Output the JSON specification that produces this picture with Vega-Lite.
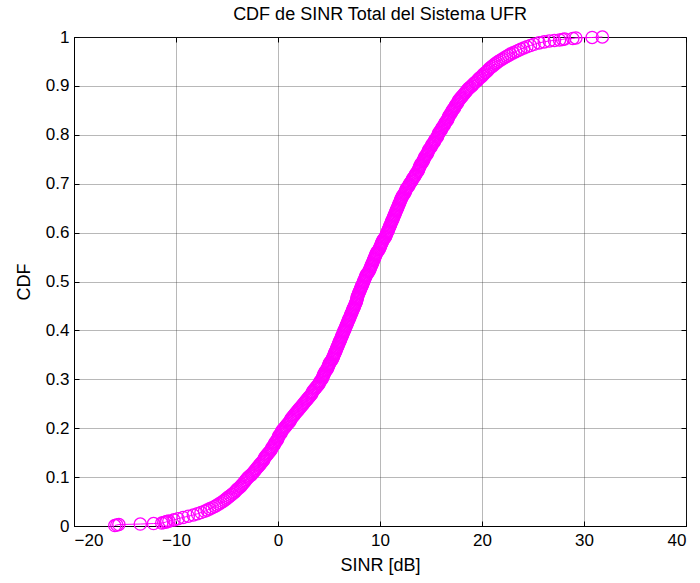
{
  "$schema": "https://vega.github.io/schema/vega-lite/v6.json",
  "autosize": {"type": "none"},
  "padding": {"left": 74, "top": 37, "right": 14, "bottom": 57},
  "width": 612,
  "height": 489,
  "background": "white",
  "title": {"text": "CDF de SINR Total del Sistema UFR", "font": "Liberation Sans", "fontSize": 18, "fontWeight": "normal", "color": "black", "anchor": "middle", "offset": 4},
  "config": {
    "view": {"stroke": "black", "strokeWidth": 1},
    "axis": {
      "domainColor": "black", "domainWidth": 1,
      "tickColor": "black", "tickSize": -5, "tickWidth": 1,
      "labelFont": "Liberation Sans", "labelFontSize": 17, "labelColor": "black",
      "titleFont": "Liberation Sans", "titleFontSize": 18, "titleFontWeight": "normal", "titleColor": "black",
      "gridColor": "#333", "gridDash": [1, 1], "gridOpacity": 0.7, "gridWidth": 1
    }
  },
  "data": {"values": [
    {"x": -16.0, "c": 0.001}, {"x": -15.8, "c": 0.002}, {"x": -15.6, "c": 0.003}, {"x": -13.5, "c": 0.004},
    {"x": -12.2, "c": 0.005}, {"x": -11.4, "c": 0.006}, {"x": -11.2, "c": 0.007}, {"x": -11.0, "c": 0.008},
    {"x": -10.9, "c": 0.009}, {"x": -10.7, "c": 0.010}, {"x": -10.2, "c": 0.0125}, {"x": -9.8, "c": 0.015},
    {"x": -9.3, "c": 0.0175}, {"x": -8.8, "c": 0.020}, {"x": -8.3, "c": 0.0225}, {"x": -7.9, "c": 0.025},
    {"x": -7.55, "c": 0.0275}, {"x": -7.2, "c": 0.030}, {"x": -6.95, "c": 0.0325}, {"x": -6.7, "c": 0.035},
    {"x": -6.45, "c": 0.0375}, {"x": -6.2, "c": 0.040}, {"x": -6.0, "c": 0.0425}, {"x": -5.8, "c": 0.045},
    {"x": -5.6, "c": 0.0475}, {"x": -5.4, "c": 0.050}, {"x": -5.25, "c": 0.0525}, {"x": -5.1, "c": 0.055},
    {"x": -4.95, "c": 0.0575}, {"x": -4.8, "c": 0.060}, {"x": -4.65, "c": 0.0625}, {"x": -4.5, "c": 0.065},
    {"x": -4.35, "c": 0.0675}, {"x": -4.2, "c": 0.070}, {"x": -4.1, "c": 0.0725}, {"x": -4.0, "c": 0.075},
    {"x": -3.85, "c": 0.0775}, {"x": -3.7, "c": 0.080}, {"x": -3.6, "c": 0.0825}, {"x": -3.5, "c": 0.085},
    {"x": -3.4, "c": 0.0875}, {"x": -3.3, "c": 0.090}, {"x": -3.2, "c": 0.0925}, {"x": -3.1, "c": 0.095},
    {"x": -3.0, "c": 0.0975}, {"x": -2.9, "c": 0.100}, {"x": -2.75, "c": 0.1025}, {"x": -2.6, "c": 0.105},
    {"x": -2.5, "c": 0.1075}, {"x": -2.4, "c": 0.110}, {"x": -2.3, "c": 0.1125}, {"x": -2.2, "c": 0.115},
    {"x": -2.1, "c": 0.1175}, {"x": -2.0, "c": 0.120}, {"x": -1.9, "c": 0.1225}, {"x": -1.8, "c": 0.125},
    {"x": -1.7, "c": 0.1275}, {"x": -1.6, "c": 0.130}, {"x": -1.5, "c": 0.1325}, {"x": -1.4, "c": 0.135},
    {"x": -1.35, "c": 0.1375}, {"x": -1.3, "c": 0.140}, {"x": -1.2, "c": 0.1425}, {"x": -1.1, "c": 0.145},
    {"x": -1.0, "c": 0.1475}, {"x": -0.9, "c": 0.150}, {"x": -0.8, "c": 0.1525}, {"x": -0.7, "c": 0.155},
    {"x": -0.65, "c": 0.1575}, {"x": -0.6, "c": 0.160}, {"x": -0.5, "c": 0.1625}, {"x": -0.4, "c": 0.165},
    {"x": -0.35, "c": 0.1675}, {"x": -0.3, "c": 0.170}, {"x": -0.2, "c": 0.1725}, {"x": -0.1, "c": 0.175},
    {"x": -0.05, "c": 0.1775}, {"x": 0.0, "c": 0.180}, {"x": 0.05, "c": 0.1825}, {"x": 0.1, "c": 0.185},
    {"x": 0.2, "c": 0.1875}, {"x": 0.3, "c": 0.190}, {"x": 0.35, "c": 0.1925}, {"x": 0.4, "c": 0.195},
    {"x": 0.5, "c": 0.1975}, {"x": 0.6, "c": 0.200}, {"x": 0.7, "c": 0.2025}, {"x": 0.8, "c": 0.205},
    {"x": 0.9, "c": 0.2075}, {"x": 1.0, "c": 0.210}, {"x": 1.1, "c": 0.2125}, {"x": 1.2, "c": 0.215},
    {"x": 1.25, "c": 0.2175}, {"x": 1.3, "c": 0.220}, {"x": 1.4, "c": 0.2225}, {"x": 1.5, "c": 0.225},
    {"x": 1.6, "c": 0.2275}, {"x": 1.7, "c": 0.230}, {"x": 1.8, "c": 0.2325}, {"x": 1.9, "c": 0.235},
    {"x": 2.0, "c": 0.2375}, {"x": 2.1, "c": 0.240}, {"x": 2.2, "c": 0.2425}, {"x": 2.3, "c": 0.245},
    {"x": 2.4, "c": 0.2475}, {"x": 2.5, "c": 0.250}, {"x": 2.6, "c": 0.2525}, {"x": 2.7, "c": 0.255},
    {"x": 2.8, "c": 0.2575}, {"x": 2.9, "c": 0.260}, {"x": 3.0, "c": 0.2625}, {"x": 3.1, "c": 0.265},
    {"x": 3.2, "c": 0.2675}, {"x": 3.3, "c": 0.270}, {"x": 3.35, "c": 0.2725}, {"x": 3.4, "c": 0.275},
    {"x": 3.5, "c": 0.2775}, {"x": 3.6, "c": 0.280}, {"x": 3.7, "c": 0.2825}, {"x": 3.8, "c": 0.285},
    {"x": 3.9, "c": 0.2875}, {"x": 4.0, "c": 0.290}, {"x": 4.05, "c": 0.2925}, {"x": 4.1, "c": 0.295},
    {"x": 4.2, "c": 0.2975}, {"x": 4.3, "c": 0.300}, {"x": 4.35, "c": 0.3025}, {"x": 4.4, "c": 0.305},
    {"x": 4.45, "c": 0.3075}, {"x": 4.5, "c": 0.310}, {"x": 4.55, "c": 0.3125}, {"x": 4.6, "c": 0.315},
    {"x": 4.7, "c": 0.3175}, {"x": 4.8, "c": 0.320}, {"x": 4.85, "c": 0.3225}, {"x": 4.9, "c": 0.325},
    {"x": 4.95, "c": 0.3275}, {"x": 5.0, "c": 0.330}, {"x": 5.05, "c": 0.3325}, {"x": 5.1, "c": 0.335},
    {"x": 5.2, "c": 0.3375}, {"x": 5.3, "c": 0.340}, {"x": 5.35, "c": 0.3425}, {"x": 5.4, "c": 0.345},
    {"x": 5.45, "c": 0.3475}, {"x": 5.5, "c": 0.350}, {"x": 5.55, "c": 0.3525}, {"x": 5.6, "c": 0.355},
    {"x": 5.65, "c": 0.3575}, {"x": 5.7, "c": 0.360}, {"x": 5.75, "c": 0.3625}, {"x": 5.8, "c": 0.365},
    {"x": 5.85, "c": 0.3675}, {"x": 5.9, "c": 0.370}, {"x": 5.95, "c": 0.3725}, {"x": 6.0, "c": 0.375},
    {"x": 6.05, "c": 0.3775}, {"x": 6.1, "c": 0.380}, {"x": 6.15, "c": 0.3825}, {"x": 6.2, "c": 0.385},
    {"x": 6.25, "c": 0.3875}, {"x": 6.3, "c": 0.390}, {"x": 6.35, "c": 0.3925}, {"x": 6.4, "c": 0.395},
    {"x": 6.45, "c": 0.3975}, {"x": 6.5, "c": 0.400}, {"x": 6.55, "c": 0.4025}, {"x": 6.6, "c": 0.405},
    {"x": 6.65, "c": 0.4075}, {"x": 6.7, "c": 0.410}, {"x": 6.75, "c": 0.4125}, {"x": 6.8, "c": 0.415},
    {"x": 6.85, "c": 0.4175}, {"x": 6.9, "c": 0.420}, {"x": 6.95, "c": 0.4225}, {"x": 7.0, "c": 0.425},
    {"x": 7.05, "c": 0.4275}, {"x": 7.1, "c": 0.430}, {"x": 7.15, "c": 0.4325}, {"x": 7.2, "c": 0.435},
    {"x": 7.25, "c": 0.4375}, {"x": 7.3, "c": 0.440}, {"x": 7.35, "c": 0.4425}, {"x": 7.4, "c": 0.445},
    {"x": 7.45, "c": 0.4475}, {"x": 7.5, "c": 0.450}, {"x": 7.55, "c": 0.4525}, {"x": 7.6, "c": 0.455},
    {"x": 7.65, "c": 0.4575}, {"x": 7.7, "c": 0.460}, {"x": 7.72, "c": 0.4625}, {"x": 7.75, "c": 0.465},
    {"x": 7.78, "c": 0.4675}, {"x": 7.8, "c": 0.470}, {"x": 7.85, "c": 0.4725}, {"x": 7.9, "c": 0.475},
    {"x": 7.95, "c": 0.4775}, {"x": 8.0, "c": 0.480}, {"x": 8.05, "c": 0.4825}, {"x": 8.1, "c": 0.485},
    {"x": 8.15, "c": 0.4875}, {"x": 8.2, "c": 0.490}, {"x": 8.25, "c": 0.4925}, {"x": 8.3, "c": 0.495},
    {"x": 8.35, "c": 0.4975}, {"x": 8.4, "c": 0.500}, {"x": 8.45, "c": 0.5025}, {"x": 8.5, "c": 0.505},
    {"x": 8.55, "c": 0.5075}, {"x": 8.6, "c": 0.510}, {"x": 8.65, "c": 0.5125}, {"x": 8.7, "c": 0.515},
    {"x": 8.8, "c": 0.5175}, {"x": 8.9, "c": 0.520}, {"x": 8.95, "c": 0.5225}, {"x": 9.0, "c": 0.525},
    {"x": 9.05, "c": 0.5275}, {"x": 9.1, "c": 0.530}, {"x": 9.15, "c": 0.5325}, {"x": 9.2, "c": 0.535},
    {"x": 9.25, "c": 0.5375}, {"x": 9.3, "c": 0.540}, {"x": 9.35, "c": 0.5425}, {"x": 9.4, "c": 0.545},
    {"x": 9.45, "c": 0.5475}, {"x": 9.5, "c": 0.550}, {"x": 9.55, "c": 0.5525}, {"x": 9.6, "c": 0.555},
    {"x": 9.65, "c": 0.5575}, {"x": 9.7, "c": 0.560}, {"x": 9.8, "c": 0.5625}, {"x": 9.9, "c": 0.565},
    {"x": 9.95, "c": 0.5675}, {"x": 10.0, "c": 0.570}, {"x": 10.05, "c": 0.5725}, {"x": 10.1, "c": 0.575},
    {"x": 10.15, "c": 0.5775}, {"x": 10.2, "c": 0.580}, {"x": 10.25, "c": 0.5825}, {"x": 10.3, "c": 0.585},
    {"x": 10.4, "c": 0.5875}, {"x": 10.5, "c": 0.590}, {"x": 10.55, "c": 0.5925}, {"x": 10.6, "c": 0.595},
    {"x": 10.65, "c": 0.5975}, {"x": 10.7, "c": 0.600}, {"x": 10.75, "c": 0.6025}, {"x": 10.8, "c": 0.605},
    {"x": 10.85, "c": 0.6075}, {"x": 10.9, "c": 0.610}, {"x": 10.95, "c": 0.6125}, {"x": 11.0, "c": 0.615},
    {"x": 11.05, "c": 0.6175}, {"x": 11.1, "c": 0.620}, {"x": 11.15, "c": 0.6225}, {"x": 11.2, "c": 0.625},
    {"x": 11.25, "c": 0.6275}, {"x": 11.3, "c": 0.630}, {"x": 11.35, "c": 0.6325}, {"x": 11.4, "c": 0.635},
    {"x": 11.45, "c": 0.6375}, {"x": 11.5, "c": 0.640}, {"x": 11.55, "c": 0.6425}, {"x": 11.6, "c": 0.645},
    {"x": 11.65, "c": 0.6475}, {"x": 11.7, "c": 0.650}, {"x": 11.75, "c": 0.6525}, {"x": 11.8, "c": 0.655},
    {"x": 11.85, "c": 0.6575}, {"x": 11.9, "c": 0.660}, {"x": 11.95, "c": 0.6625}, {"x": 12.0, "c": 0.665},
    {"x": 12.05, "c": 0.6675}, {"x": 12.1, "c": 0.670}, {"x": 12.15, "c": 0.6725}, {"x": 12.2, "c": 0.675},
    {"x": 12.3, "c": 0.6775}, {"x": 12.4, "c": 0.680}, {"x": 12.45, "c": 0.6825}, {"x": 12.5, "c": 0.685},
    {"x": 12.55, "c": 0.6875}, {"x": 12.6, "c": 0.690}, {"x": 12.7, "c": 0.6925}, {"x": 12.8, "c": 0.695},
    {"x": 12.85, "c": 0.6975}, {"x": 12.9, "c": 0.700}, {"x": 13.0, "c": 0.7025}, {"x": 13.1, "c": 0.705},
    {"x": 13.15, "c": 0.7075}, {"x": 13.2, "c": 0.710}, {"x": 13.3, "c": 0.7125}, {"x": 13.4, "c": 0.715},
    {"x": 13.45, "c": 0.7175}, {"x": 13.5, "c": 0.720}, {"x": 13.6, "c": 0.7225}, {"x": 13.7, "c": 0.725},
    {"x": 13.75, "c": 0.7275}, {"x": 13.8, "c": 0.730}, {"x": 13.85, "c": 0.7325}, {"x": 13.9, "c": 0.735},
    {"x": 13.95, "c": 0.7375}, {"x": 14.0, "c": 0.740}, {"x": 14.1, "c": 0.7425}, {"x": 14.2, "c": 0.745},
    {"x": 14.25, "c": 0.7475}, {"x": 14.3, "c": 0.750}, {"x": 14.35, "c": 0.7525}, {"x": 14.4, "c": 0.755},
    {"x": 14.5, "c": 0.7575}, {"x": 14.6, "c": 0.760}, {"x": 14.65, "c": 0.7625}, {"x": 14.7, "c": 0.765},
    {"x": 14.75, "c": 0.7675}, {"x": 14.8, "c": 0.770}, {"x": 14.9, "c": 0.7725}, {"x": 15.0, "c": 0.775},
    {"x": 15.05, "c": 0.7775}, {"x": 15.1, "c": 0.780}, {"x": 15.2, "c": 0.7825}, {"x": 15.3, "c": 0.785},
    {"x": 15.35, "c": 0.7875}, {"x": 15.4, "c": 0.790}, {"x": 15.5, "c": 0.7925}, {"x": 15.6, "c": 0.795},
    {"x": 15.65, "c": 0.7975}, {"x": 15.7, "c": 0.800}, {"x": 15.75, "c": 0.8025}, {"x": 15.8, "c": 0.805},
    {"x": 15.9, "c": 0.8075}, {"x": 16.0, "c": 0.810}, {"x": 16.05, "c": 0.8125}, {"x": 16.1, "c": 0.815},
    {"x": 16.2, "c": 0.8175}, {"x": 16.3, "c": 0.820}, {"x": 16.35, "c": 0.8225}, {"x": 16.4, "c": 0.825},
    {"x": 16.5, "c": 0.8275}, {"x": 16.6, "c": 0.830}, {"x": 16.65, "c": 0.8325}, {"x": 16.7, "c": 0.835},
    {"x": 16.75, "c": 0.8375}, {"x": 16.8, "c": 0.840}, {"x": 16.9, "c": 0.8425}, {"x": 17.0, "c": 0.845},
    {"x": 17.05, "c": 0.8475}, {"x": 17.1, "c": 0.850}, {"x": 17.2, "c": 0.8525}, {"x": 17.3, "c": 0.855},
    {"x": 17.35, "c": 0.8575}, {"x": 17.4, "c": 0.860}, {"x": 17.5, "c": 0.8625}, {"x": 17.6, "c": 0.865},
    {"x": 17.65, "c": 0.8675}, {"x": 17.7, "c": 0.870}, {"x": 17.8, "c": 0.8725}, {"x": 17.9, "c": 0.875},
    {"x": 18.0, "c": 0.8775}, {"x": 18.1, "c": 0.880}, {"x": 18.2, "c": 0.8825}, {"x": 18.3, "c": 0.885},
    {"x": 18.4, "c": 0.8875}, {"x": 18.5, "c": 0.890}, {"x": 18.6, "c": 0.8925}, {"x": 18.7, "c": 0.895},
    {"x": 18.85, "c": 0.8975}, {"x": 19.0, "c": 0.900}, {"x": 19.1, "c": 0.9025}, {"x": 19.2, "c": 0.905},
    {"x": 19.35, "c": 0.9075}, {"x": 19.5, "c": 0.910}, {"x": 19.6, "c": 0.9125}, {"x": 19.7, "c": 0.915},
    {"x": 19.85, "c": 0.9175}, {"x": 20.0, "c": 0.920}, {"x": 20.1, "c": 0.9225}, {"x": 20.2, "c": 0.925},
    {"x": 20.35, "c": 0.9275}, {"x": 20.5, "c": 0.930}, {"x": 20.6, "c": 0.9325}, {"x": 20.7, "c": 0.935},
    {"x": 20.85, "c": 0.9375}, {"x": 21.0, "c": 0.940}, {"x": 21.15, "c": 0.9425}, {"x": 21.3, "c": 0.945},
    {"x": 21.45, "c": 0.9475}, {"x": 21.6, "c": 0.950}, {"x": 21.8, "c": 0.9525}, {"x": 22.0, "c": 0.955},
    {"x": 22.2, "c": 0.9575}, {"x": 22.4, "c": 0.960}, {"x": 22.6, "c": 0.9625}, {"x": 22.8, "c": 0.965},
    {"x": 23.05, "c": 0.9675}, {"x": 23.3, "c": 0.970}, {"x": 23.55, "c": 0.9725}, {"x": 23.8, "c": 0.975},
    {"x": 24.1, "c": 0.9775}, {"x": 24.4, "c": 0.980}, {"x": 24.75, "c": 0.9825}, {"x": 25.1, "c": 0.985},
    {"x": 25.6, "c": 0.988}, {"x": 26.1, "c": 0.990}, {"x": 26.6, "c": 0.992}, {"x": 27.1, "c": 0.993},
    {"x": 27.6, "c": 0.994}, {"x": 27.9, "c": 0.995}, {"x": 28.1, "c": 0.996}, {"x": 28.9, "c": 0.997},
    {"x": 29.2, "c": 0.998}, {"x": 30.8, "c": 0.999}, {"x": 31.8, "c": 1.000}
  ]},
  "resolve": {"axis": {"x": "independent", "y": "independent"}},
  "layer": [
    {
      "mark": {"type": "line", "color": "#FF00FF", "strokeWidth": 1},
      "encoding": {
        "x": {"field": "x", "type": "quantitative", "scale": {"domain": [-20, 40], "nice": false, "zero": false},
              "axis": {"orient": "top", "title": null, "labels": false, "grid": false, "domain": false, "values": [-20, -10, 0, 10, 20, 30, 40]}},
        "y": {"field": "c", "type": "quantitative", "scale": {"domain": [0, 1], "nice": false},
              "axis": {"orient": "right", "title": null, "labels": false, "grid": false, "domain": false, "values": [0, 0.1, 0.2, 0.3, 0.4, 0.5, 0.6, 0.7, 0.8, 0.9, 1]}}
      }
    },
    {
      "mark": {"type": "point", "shape": "circle", "filled": false, "color": "#FF00FF", "size": 150, "strokeWidth": 1.3, "opacity": 1},
      "encoding": {
        "x": {"field": "x", "type": "quantitative", "scale": {"domain": [-20, 40], "nice": false, "zero": false},
              "axis": {"orient": "bottom", "title": "SINR [dB]", "values": [-20, -10, 0, 10, 20, 30, 40], "labelPadding": 11, "titlePadding": 8, "grid": true}},
        "y": {"field": "c", "type": "quantitative", "scale": {"domain": [0, 1], "nice": false},
              "axis": {"orient": "left", "title": "CDF", "values": [0, 0.1, 0.2, 0.3, 0.4, 0.5, 0.6, 0.7, 0.8, 0.9, 1], "format": "~g", "labelPadding": 10, "titlePadding": 12, "grid": true}}
      }
    }
  ]
}
